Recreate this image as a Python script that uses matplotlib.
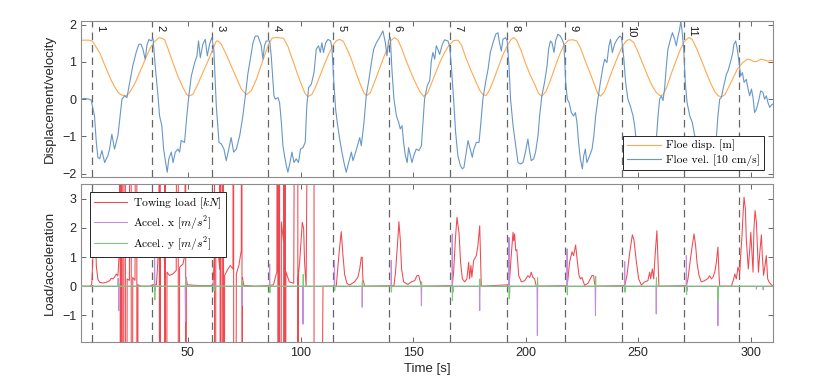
import numpy as np
import matplotlib
matplotlib.use("Agg")
import matplotlib.pyplot as plt
from matplotlib.font_manager import FontProperties

plt.rcParams['font.family'] = ['Liberation Sans', 'DejaVu Sans']
plt.rcParams['mathtext.fontset'] = 'cm'

# --- data ---
# floe displacement [m]
disp_t = [2.5, 6, 7.5, 9, 11, 13, 15.2, 17.4, 19, 20.5, 22.5, 24, 26.3, 28.5, 30.7, 33, 35.2, 37.4,
          39.6, 41.1, 43.3, 45.5, 47.8, 49.5, 50.5, 52.2, 54.4, 56.6, 58.9, 61.1, 62.6, 63.6, 64.8,
          67, 69.2, 71.5, 73.7, 75.9, 78.1, 80.4, 82.5, 84.5, 86, 87.5, 90, 92.5, 94.5, 96.5, 98.5,
          100.5, 102, 103.3, 105, 106.5, 108.5, 110.5, 112.5, 114.5, 116, 117.4, 119, 121, 123, 125,
          127, 128.3, 129.5, 131, 132.5, 134.5, 136.5, 138.5, 140.3, 141.8, 143.3, 145, 147, 149,
          151, 153, 154.8, 156.5, 158, 160, 162, 164, 166, 168, 169.9, 171.5, 173.5, 175.5, 177.5,
          179.5, 181, 182.5, 184, 186, 188, 190, 192, 193.5, 194.7, 196, 198, 200, 202, 204, 205.7,
          207.2, 209, 211, 213, 215, 217, 219, 221, 222.7, 224.5, 226.5, 228.5, 230.5, 232, 233.2,
          235, 237, 239, 241, 243, 244.8, 246.2, 248, 250, 252, 254, 256, 258, 259.5, 261, 262.5,
          264.5, 266.5, 268.5, 270.5, 272.5, 274, 276, 278, 280, 282, 284, 285.5, 287, 288.5, 290,
          292, 294, 296.4, 298.5, 300, 301.5, 303, 304.5, 306, 307.5, 309, 310]
disp_v = [1.58, 1.58, 1.56, 1.42, 1.22, 0.92, 0.6, 0.33, 0.18, 0.11, 0.09, 0.17, 0.4, 0.71, 1.02, 1.34, 1.55, 1.65,
          1.6, 1.36, 0.98, 0.62, 0.31, 0.12, 0.08, 0.13, 0.4, 0.71, 1.02, 1.34, 1.56, 1.55, 1.47,
          1.2, 0.89, 0.58, 0.27, 0.12, 0.22, 0.53, 0.9, 1.25, 1.5, 1.64, 1.65, 1.63, 1.4, 1.05, 0.7,
          0.38, 0.15, 0.07, 0.12, 0.3, 0.6, 0.92, 1.2, 1.45, 1.57, 1.6, 1.55, 1.3, 1.0, 0.65,
          0.33, 0.15, 0.1, 0.17, 0.4, 0.72, 1.05, 1.35, 1.58, 1.65, 1.58, 1.35, 1.02, 0.72,
          0.45, 0.2, 0.07, 0.17, 0.4, 0.7, 1.0, 1.25, 1.45, 1.57, 1.58, 1.45, 1.1, 0.8, 0.52,
          0.25, 0.12, 0.1, 0.25, 0.55, 0.88, 1.2, 1.45, 1.6, 1.65, 1.58, 1.3, 0.95, 0.65, 0.4, 0.15,
          0.08, 0.2, 0.5, 0.85, 1.18, 1.45, 1.58, 1.59, 1.56, 1.35, 1.02, 0.72, 0.4, 0.15, 0.08,
          0.2, 0.52, 0.85, 1.15, 1.42, 1.57, 1.6, 1.52, 1.25, 0.95, 0.65, 0.38, 0.18, 0.1, 0.11, 0.3,
          0.65, 0.98, 1.3, 1.55, 1.65, 1.6, 1.35, 1.05, 0.75, 0.45, 0.2, 0.09, 0.06, 0.12, 0.3,
          0.55, 0.8, 0.98, 1.07, 1.05, 1.0, 1.02, 1.07, 1.05, 1.02, 1.04, 1.03]

# floe velocity [10 cm/s]
vel_t = [2.5, 4, 6, 7, 8.5, 9.3, 10, 10.8, 11.8, 13, 14.4, 15.2, 16.2, 17.4, 18.9, 19.9, 20.7, 21.9,
         22.9, 24.1, 25.5, 27, 28.2, 29.2, 30, 31, 31.8, 32.7, 33.7, 34.5, 35.6, 36.7, 37.4, 38.4,
         39.2, 40.1, 40.8, 41.5, 42.6, 43.4, 44.4, 45.5, 46.3, 47, 48.5, 49.5, 50.4, 51.5, 53, 54,
         54.7, 55.5, 56.6, 57.7, 58.6, 59.6, 60.6, 61.5, 62.6, 63.8, 64.8, 66, 67, 68, 69.2, 70.3,
         71.5, 73, 74.4, 75.5, 76.6, 77.7, 78.9, 79.9, 81.1, 82.6, 83.3, 84, 84.8, 86.3, 87, 88.2,
         88.8, 90, 90.7, 91.5, 92.2, 92.9, 93.7, 94.4, 95.2, 96.2, 97.1, 98.1, 99.1, 100, 101.1,
         102.1, 102.8, 103.6, 104.8, 106, 107, 108, 108.8, 109.5, 110.2, 111.2, 112.2, 113.4, 114,
         114.8, 115.6, 116.3, 117.4, 118.4, 119.3, 120.3, 121.4, 122.6, 123.3, 124.5, 125.5, 126.3,
         127, 128.2, 129.2, 130.4, 131.5, 132.5, 133.7, 135.1, 136.6, 137.7, 138.4, 139.1, 139.9,
         140.6, 141.5, 142.6, 143.6, 144.3, 145.1, 145.8, 146.6, 147.4, 148, 148.8, 149.5, 150.3,
         151.4, 152.6, 153.7, 154.4, 155.1, 156.3, 157.4, 158.1, 158.8, 159.6, 160.3, 161, 161.8,
         163, 164, 165.5, 166.2, 167, 168, 168.9, 169.9, 171, 171.9, 172.6, 173.6, 174.4, 175.4,
         176.3, 177, 178.1, 179.3, 180, 181, 182.2, 183.3, 184.3, 185.5, 186.7, 187.7, 188.4, 189.2,
         189.9, 191.1, 191.8, 192.6, 193.3, 194.4, 195.6, 196.6, 197.7, 198.8, 199.9, 201, 201.8,
         202.5, 203.6, 204.4, 205.5, 206.2, 207.2, 208.4, 209.5, 210.2, 211, 211.7, 212.6, 213.3,
         214.3, 215.4, 216.3, 217, 217.8, 218.5, 219.3, 220.3, 221.3, 222.1, 222.8, 223.5, 224.3,
         225.2, 225.8, 226.5, 227.2, 228.4, 229.5, 230.3, 231.1, 232.1, 233.2, 234.3, 235.1, 236.1,
         237, 237.7, 238.5, 239.5, 240.6, 241.8, 242.6, 243.5, 244.4, 245.4, 246.5, 247.7, 248.4,
         249.2, 250.3, 251.5, 252.8, 254, 255.3, 256.5, 257.4, 258.1, 258.8, 259.5, 260.3, 261,
         261.7, 262.5, 263.2, 264.3, 265.2, 266.2, 266.9, 267.7, 268.4, 268.9, 269.4, 270.2, 270.9,
         271.7, 272.9, 274, 275.1, 276.2, 277.4, 278.6, 279.8, 281, 282.3, 283.5, 284.7, 285.4,
         286.2, 286.9, 288, 289.2, 289.9, 291.3, 292, 292.5, 293.3, 294, 294.8, 295.5, 296.3, 297,
         298, 298.8, 299.5, 300.3, 301, 301.7, 302.5, 303.5, 304.4, 305.4, 306.1, 306.9, 307.6,
         308.4, 309.6, 310]
vel_v = [0.0, 0.02, 0.0, -0.02, -0.45, -1.16, -1.56, -1.6, -1.38, -1.7, -1.52, -1.34, -0.94, -1.34, -0.98, -0.45, 0.0, 0.09,
         0.04, 0.44, 0.89, 1.25, 1.47, 1.47, 1.34, 1.07, 1.45, 1.6, 1.56, 1.62, 0.8, 0.09, -0.45, -0.71,
         -1.34, -1.7, -1.96, -1.6, -1.42, -1.7, -1.42, -1.34, -1.42, -1.11, -1.16, -0.45, 0.09, 0.62, 0.98, 1.16,
         1.56, 1.11, 1.47, 1.6, 1.16, 1.47, 1.65, 1.34, -0.18, -1.16, -1.2, -1.34, -1.65, -1.38, -1.03, -1.42,
         -1.34, -0.98, -0.45, 0.09, 0.67, 1.07, 1.51, 1.69, 1.69, 1.43, 1.07, 1.43, 1.56, 1.56, 1.16, 0.09,
         0.0, 0.04, -0.09, -0.62, -1.25, -1.52, -1.78, -1.96, -1.74, -1.42, -1.7, -1.6, -1.7, -1.34, -1.3,
         -1.16, -0.18, 0.31, 0.4, 0.71, 1.34, 1.43, 1.25, 1.51, 1.25, 1.51, 1.6, 1.56, 1.34,
         0.45, -0.27, -0.62, -1.07, -1.42, -1.7, -1.96, -1.7, -1.42, -1.65, -1.42, -1.2, -1.03,
         -1.25, -0.62, 0.09, 0.53, 0.98, 1.34, 1.51, 1.65, 1.83, 1.51, 1.16, 1.56, 1.65,
         0.8, 0.0, -0.45, -0.62, -0.8, -0.71, -1.16, -1.52, -1.7, -1.3, -1.52, -1.7, -1.52,
         -1.34, -1.38, -1.25, -0.62, 0.0, 0.36, 0.5, 1.02, 1.25, 1.07, 1.43, 1.34, 1.2,
         1.47, 1.59, 1.56, 1.43, 0.89, 0.0, -0.89, -1.52, -1.78, -1.87, -1.83, -1.42, -1.11, -1.34,
         -1.56, -1.34, -1.16, -1.16, -0.71, 0.0, 0.45, 0.8, 1.25, 1.51, 1.74, 1.78, 1.51, 1.29,
         1.6, 1.65, 1.56, 0.89, 0.0, -0.71, -1.25, -1.7, -1.74, -1.7, -1.42, -1.07, -1.42,
         -1.65, -1.6, -1.42, -0.98, -0.45, 0.09, 0.45, 0.89, 1.34, 1.56, 1.51, 1.25, 1.56,
         1.74, 1.69, 1.59, 1.47, 0.45, 0.0, -0.09, -0.36, -0.45, -0.36, -0.62, -1.16, -1.6,
         -1.87, -1.52, -1.34, -1.7, -1.52, -1.34, -0.98, -0.45, 0.0, 0.45, 0.85, 1.07, 0.98,
         1.43, 1.6, 1.25, 1.47, 1.6, 1.69, 1.65, 1.16, 0.45, 0.0, -0.18, -0.45, -0.71,
         -1.16, -1.6, -1.85, -1.7, -1.85, -1.6, -1.4, -1.35, -1.03, -0.45, 0.0, 0.09, -0.04,
         0.27, 0.89, 1.34, 1.6, 1.78, 1.6, 1.43, 1.69, 1.87, 2.09, 1.87, 1.34, 0.45,
         -0.09, -0.45, -0.62, -0.98, -1.45, -1.8, -1.65, -1.9, -1.7, -1.5, -1.4, -1.03, -0.45,
         0.0, 0.04, 0.36, 0.67, 0.76, 1.07, 1.25, 1.47, 1.56, 1.34, 0.98, 0.62, 0.71, 0.45,
         0.53, 0.27, 0.09, 0.27, 0.04, -0.36, -0.27, -0.04, 0.22, 0.18, 0.0, 0.09, -0.09,
         -0.22, -0.13, -0.15]

# towing load [kN]
load_t = [2.5, 6.8, 7.3, 7.8, 8.3, 8.7, 9.0, 9.3, 10.0, 10.8, 12.2, 13.7, 15.2, 15.9, 16.7, 17.4, 18.2,
          18.9, 19.3, 19.7, 21.5, 23, 24, 25.5, 26.5, 27.8, 29, 33, 34.3, 36, 36.6, 37.2, 37.8, 38.4,
          38.9, 39.6, 40.7, 41.8, 43.3, 44.8, 46.3, 47.8, 48.7, 49.2, 49.7, 55, 60.5, 61.2, 61.8, 62.4,
          63.1, 64.1, 65.3, 66.3, 67.8, 68.8, 70.0, 71.5, 72.6, 73.7, 74.2, 74.8, 80, 86, 88, 89.5,
          90.5, 91.5, 92.5, 93.5, 95, 97, 99, 99.6, 100.3, 100.8, 101.4, 101.8, 102.5, 110, 115.9,
          117.1, 118.1, 118.8, 119.6, 120.6, 121.8, 124.0, 125.5, 126.3, 127.0, 127.4, 127.7, 128.5,
          141.5, 142.2, 142.8, 143.3, 143.7, 144.3, 144.9, 145.8, 147.7, 149.2, 150.7, 151.7, 152.5,
          152.9, 153.7, 167.4, 168.0, 168.8, 169.5, 170.4, 171.1, 171.9, 172.9, 173.9, 174.7, 175.1,
          175.7, 176.1, 176.9, 178.1, 178.8, 179.6, 180.0, 180.3, 192.6, 192.9, 193.6, 194.4, 194.7,
          195.1, 195.6, 196.1, 196.9, 198.1, 199.6, 201.0, 201.8, 202.5, 203.2, 204.0, 204.7, 218.4,
          218.8, 219.5, 220.6, 221.3, 222.2, 223.0, 223.7, 224.3, 225.0, 226.2, 227.7, 228.7, 229.5,
          230.2, 230.6, 231.1, 244.0, 245.0, 246.2, 247.4, 248.1, 249.2, 250.2, 251.4, 252.9, 254.3,
          255.1, 255.5, 256.3, 256.9, 257.3, 257.8, 258.3, 258.8, 259.2, 271.4, 272.1, 273.2, 274.0,
          274.8, 275.5, 276.1, 277.0, 278.0, 279.5, 281.0, 281.7, 282.5, 283.2, 284.0, 284.7, 285.4,
          285.9, 286.2, 291.4, 292.4, 292.9, 293.6, 294.3, 295.1, 295.5, 296.1, 296.6, 297.0, 297.6,
          298.0, 298.5, 298.9, 299.5, 300.0, 300.5, 301.0, 301.4, 301.9, 302.5, 302.9, 303.4, 304.0,
          304.7, 305.2, 305.7, 306.5, 306.9, 307.5, 308.1, 309.2, 310]
load_v = [0.0, 0.0, 0.1, 1.0, 2.2, 2.7, 2.0, 0.7, 0.24, 0.13, 0.11, 0.13, 0.19, 0.27, 0.25, 0.31, 0.42,
          0.35, 0.88, 1.8, 0.5, 0.25, 0.2, 0.3, 0.2, 0.05, 0.0, 0.0, 0.05, 0.05, 0.8, 2.0, 2.5, 2.2,
          1.6, 0.82, 0.48, 0.37, 0.42, 0.54, 0.65, 0.76, 1.1, 0.3, 0.05, 0.02, 0.02, 0.1, 1.2, 2.3,
          1.5, 0.59, 0.31, 0.37, 0.59, 0.71, 0.59, 0.42, 0.71, 1.22, 0.3, 0.03, 0.0, 0.02, 0.05, 0.5,
          1.4, 2.2, 1.5, 0.5, 0.15, 0.1, 0.3, 0.82, 1.62, 2.19, 1.96, 0.82, 0.0, 0.0, 0.0,
          1.11, 1.87, 1.11, 0.4, 0.1, 0.04, 0.15, 0.31, 0.59, 0.99, 0.99, 0.25, 0.0,
          0.02, 0.48, 1.11, 1.68, 2.21, 1.62, 0.59, 0.15, 0.06, 0.15, 0.19, 0.36, 0.37,
          0.25, 0.0, 0.02, 0.48, 1.62, 2.36, 1.83, 0.82, 0.25, 0.15, 0.25, 0.82, 0.25,
          0.71, 0.31, 0.88, 1.05, 1.39, 2.07, 0.82, 0.0, 0.05, 0.25, 1.05, 1.85, 1.55,
          1.79, 1.22, 1.25, 0.37, 0.15, 0.19, 0.36, 0.3, 0.48, 0.31, 0.25, 0.0, 0.02,
          0.25, 0.82, 1.18, 1.05, 1.41, 0.82, 0.37, 0.25, 0.3, 0.03, 0.1, 0.25, 0.37,
          0.36, 0.1, 0.0, 0.02, 0.37, 1.14, 1.76, 1.59, 0.82, 0.25, 0.04, 0.15, 0.19,
          0.48, 0.25, 0.59, 0.25, 0.82, 1.39, 1.9, 0.82, 0.0, 0.02, 0.25, 0.93, 1.39,
          1.79, 1.39, 0.82, 0.37, 0.15, 0.19, 0.27, 0.36, 0.25, 0.31, 0.48, 0.82, 1.34,
          0.37, 0.0, 0.0, 0.25, 0.42, 0.25, 0.65, 0.45, 1.05, 1.74, 2.53, 3.05, 2.65,
          1.62, 1.05, 0.59, 1.22, 1.85, 1.14, 0.48, 1.96, 2.59, 2.19, 1.45, 0.48, 1.14,
          1.76, 0.93, 0.37, 0.82, 1.05, 0.25, 0.15, 0.04, 0.02]

# load-cell dropouts (full-scale spikes)
glitch_t = [19.9, 20.8, 22.2, 24.8, 27.3, 37.3, 37.6, 39.7, 39.9, 45.7, 49.0, 61.8, 64.3, 64.6,
            65.8, 70.3, 74.0, 90.0, 90.3, 90.7, 92.5, 93.3, 98.8, 106.0]

# acceleration spikes [m/s^2]
accx_t = [19.0, 19.3, 35.2, 35.5, 48.9, 49.1, 61.5, 74.0, 86.3, 101.1, 115.1, 127.4, 140.3, 153.7,
          167.4, 167.7, 179.6, 192.6, 192.9, 205.2, 218.4, 231.0, 244.0, 244.3, 258.0, 271.4, 271.7,
          285.4, 302.5, 305.5]
accx_v = [0.27, -0.84, 0.98, -0.15, -1.2, 0.3, 0.2, -0.67, 0.76, -1.3, 0.88, -0.72, 0.88, -0.67,
          1.79, -0.2, -0.84, 1.67, -0.25, -1.69, 1.28, -1.0, 0.84, -0.2, -0.95, 1.05, -0.15,
          -1.35, -0.1, -0.12]
accy_t = [19.3, 35.3, 49.0, 61.6, 74.1, 86.4, 101.2, 115.2, 127.5, 140.4, 153.8, 167.5, 179.7,
          192.7, 205.3, 218.5, 231.1, 244.1, 258.1, 271.5, 285.5]
accy_v = [0.1, -0.46, 0.2, -0.15, 0.2, -0.23, 0.4, -0.15, 0.2, -0.2, 0.15, -0.49, 0.25,
          -0.43, 0.3, -0.3, 0.35, -0.2, 0.3, -0.28, -0.5]

# event markers
event_t = [7.3, 34.0, 60.6, 85.7, 114.4, 139.4, 166.2, 191.6, 217.5, 242.8, 270.3, 294.8]
event_lbl = ['1', '2', '3', '4', '5', '6', '7', '8', '9', '10', '11', '']

XLIM = (2.5, 310)


def spike_series(t, v, t0, t1, w=0.15):
    ts, vs = [t0], [0.0]
    for ti, vi in zip(t, v):
        ts += [ti - w, ti, ti + w]
        vs += [0.0, vi, 0.0]
    ts.append(t1)
    vs.append(0.0)
    return np.array(ts), np.array(vs)


def load_series():
    t = list(load_t)
    v = list(load_v)
    for g in glitch_t:
        t += [g, g + 0.02]
        v += [40.0, -40.0]
    order = np.argsort(t, kind='stable')
    return np.array(t)[order], np.array(v)[order]


def style_axes(ax):
    for sp in ax.spines.values():
        sp.set_color('0.55')
        sp.set_linewidth(0.8)
    ax.tick_params(direction='in', length=3.5, width=0.6, color='0.3',
                   top=True, right=True, labelsize=9, labelcolor='#262626')
    ax.set_xlim(*XLIM)
    ax.set_xticks([50, 100, 150, 200, 250, 300])


def main():
    fig = plt.figure(figsize=(8.14, 3.85), dpi=100)
    ax1 = fig.add_axes([0.0995, 0.541, 0.8505, 0.405])
    ax2 = fig.add_axes([0.0995, 0.1125, 0.8505, 0.4095])

    leg_font = FontProperties(family='cmr10', size=8.3)

    # top: displacement / velocity
    ax1.plot(disp_t, disp_v, color='#ffa84f', lw=0.8, label='Floe disp. [m]')
    ax1.plot(vel_t, vel_v, color='#6797c8', lw=0.8, label='Floe vel. [10 cm/s]')
    ax1.set_ylim(-2.08, 2.1)
    ax1.set_yticks([-2, -1, 0, 1, 2])
    style_axes(ax1)
    ax1.tick_params(labelbottom=False)
    ax1.set_ylabel('Displacement/velocity', fontsize=9.5, color='#262626')

    for t, lbl in zip(event_t, event_lbl):
        ax1.axvline(t, color='0.4', lw=0.9, ls=(0, (6, 4)), zorder=0.5)
        ax2.axvline(t, color='0.4', lw=0.9, ls=(0, (6, 4)), zorder=0.5)
        if lbl:
            ax1.text(t + 1.6, 1.99, lbl, rotation=270, ha='left', va='top',
                     fontsize=8, color='#1a1a1a')

    leg1 = ax1.legend(loc='lower right', bbox_to_anchor=(0.9866, 0.043), borderaxespad=0,
                      prop=leg_font, fancybox=False, framealpha=1, edgecolor='0.15',
                      handlelength=2.9, handletextpad=0.45, labelspacing=0.25,
                      borderpad=0.35)
    leg1.get_frame().set_linewidth(0.7)

    # bottom: load / acceleration
    lt, lv = load_series()
    ax2.axhline(0, color='0.35', lw=0.7, zorder=1)
    ax2.plot(lt, lv, color='#f0484f', lw=0.75, label='Towing load $[kN]$', zorder=2)
    xt, xv = spike_series(accx_t, accx_v, XLIM[0], XLIM[1])
    ax2.plot(xt, xv, color='#c48ddb', lw=0.75, label='Accel. x $[m/s^2]$', zorder=3)
    yt, yv = spike_series(accy_t, accy_v, XLIM[0], XLIM[1])
    ax2.plot(yt, yv, color='#77cf72', lw=0.75, label='Accel. y $[m/s^2]$', zorder=3)
    ax2.set_ylim(-1.9, 3.5)
    ax2.set_yticks([-1, 0, 1, 2, 3])
    style_axes(ax2)
    ax2.set_ylabel('Load/acceleration', fontsize=9.5, color='#262626')
    ax2.set_xlabel('Time [s]', fontsize=9.5, color='#262626', labelpad=3)

    leg2 = ax2.legend(loc='upper left', bbox_to_anchor=(0.013, 0.951), borderaxespad=0,
                      prop=leg_font, fancybox=False, framealpha=1, edgecolor='0.15',
                      handlelength=2.9, handletextpad=0.45, labelspacing=0.25,
                      borderpad=0.35)
    leg2.get_frame().set_linewidth(0.7)
    leg2.set_zorder(10)

    fig.savefig('out.png', dpi=100)


if __name__ == '__main__':
    main()
